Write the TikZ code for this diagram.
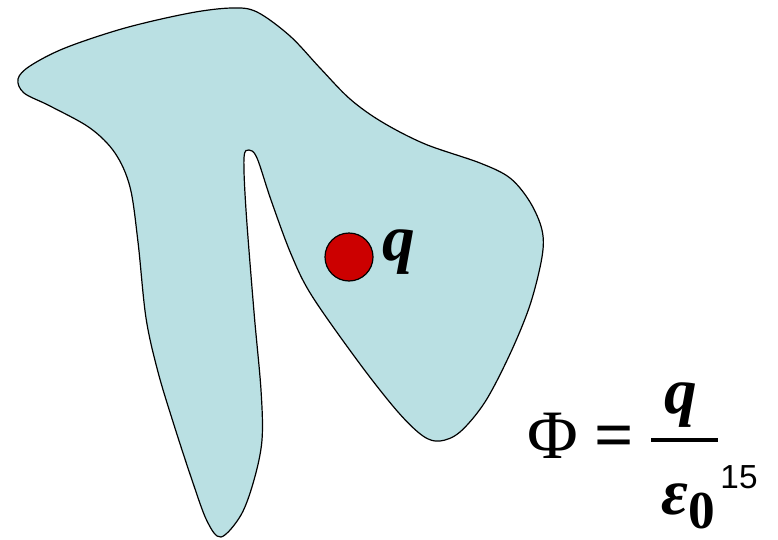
\documentclass[tikz,border=0pt]{standalone}
\usepackage{fontspec}
\setmainfont{Liberation Serif}
\newfontfamily\pagefont{Liberation Sans}
\usetikzlibrary{positioning}
\definecolor{surfblue}{RGB}{186,224,227}
\definecolor{chargered}{RGB}{204,0,0}

\begin{document}
\begin{tikzpicture}[
        x=0.75pt, y=-0.75pt,
        surface/.style={draw=black, fill=surfblue, line width=0.9pt},
        charge/.style={circle, draw=black, fill=chargered, line width=0.9pt, minimum size=36pt, inner sep=0pt},
        bigsym/.style={inner sep=0pt, font=\fontsize{52}{60}\selectfont},
        var/.style={inner sep=0pt, font=\fontsize{49}{58}\selectfont\bfseries\itshape}
    ]
    \useasboundingbox (0,0) rectangle (778,539);
    % closed surface around the charge
    \draw[surface] plot[smooth cycle, tension=0.55] coordinates {
        (18,79) (30,66) (65,48) (125,28) (190,13) (232,8) (257,12) (290,36)
        (320,68) (350,99) (382,122) (425,144) (480,163) (510,178) (530,202)
        (542,230) (542,257) (530,305) (510,354) (485,402) (460,432) (440,441)
        (423,436) (398,412) (360,364) (312,296) (291,254) (271,200) (257,158)
        (249,150) (244,158) (246,210) (254,312) (261,390) (262,440) (254,480)
        (241,515) (221,537) (207,521) (192,480) (174,425) (158,372) (146,318)
        (138,242) (130,187) (115,153) (90,128) (50,106) (24,93)};
    \node[charge] (q) at (349,257) {};
    \node[var, anchor=west] (qlabel) at (382,252) {q};
    % Gauss's law
    \node[bigsym] (phi) at (553,436) {Φ};
    \node[bigsym, font=\fontsize{52}{60}\selectfont\bfseries] (eq) at (614,442) {=};
    \coordinate (barL) at (651,440);
    \coordinate (barR) at (718,440);
    \draw[line width=3pt] (barL) -- (barR);
    \node[var] (num) at (681,405) {q};
    \node[var] (eps) at (675,499) {ε};
    \node[inner sep=0pt, font=\fontsize{40}{46}\selectfont\bfseries, right=0pt of eps.east, yshift=-9pt] (sub) {0};
    \node[inner sep=0pt, font=\pagefont\fontsize{25}{28}\selectfont] (page) at (739,477) {15};
\end{tikzpicture}
\end{document}
